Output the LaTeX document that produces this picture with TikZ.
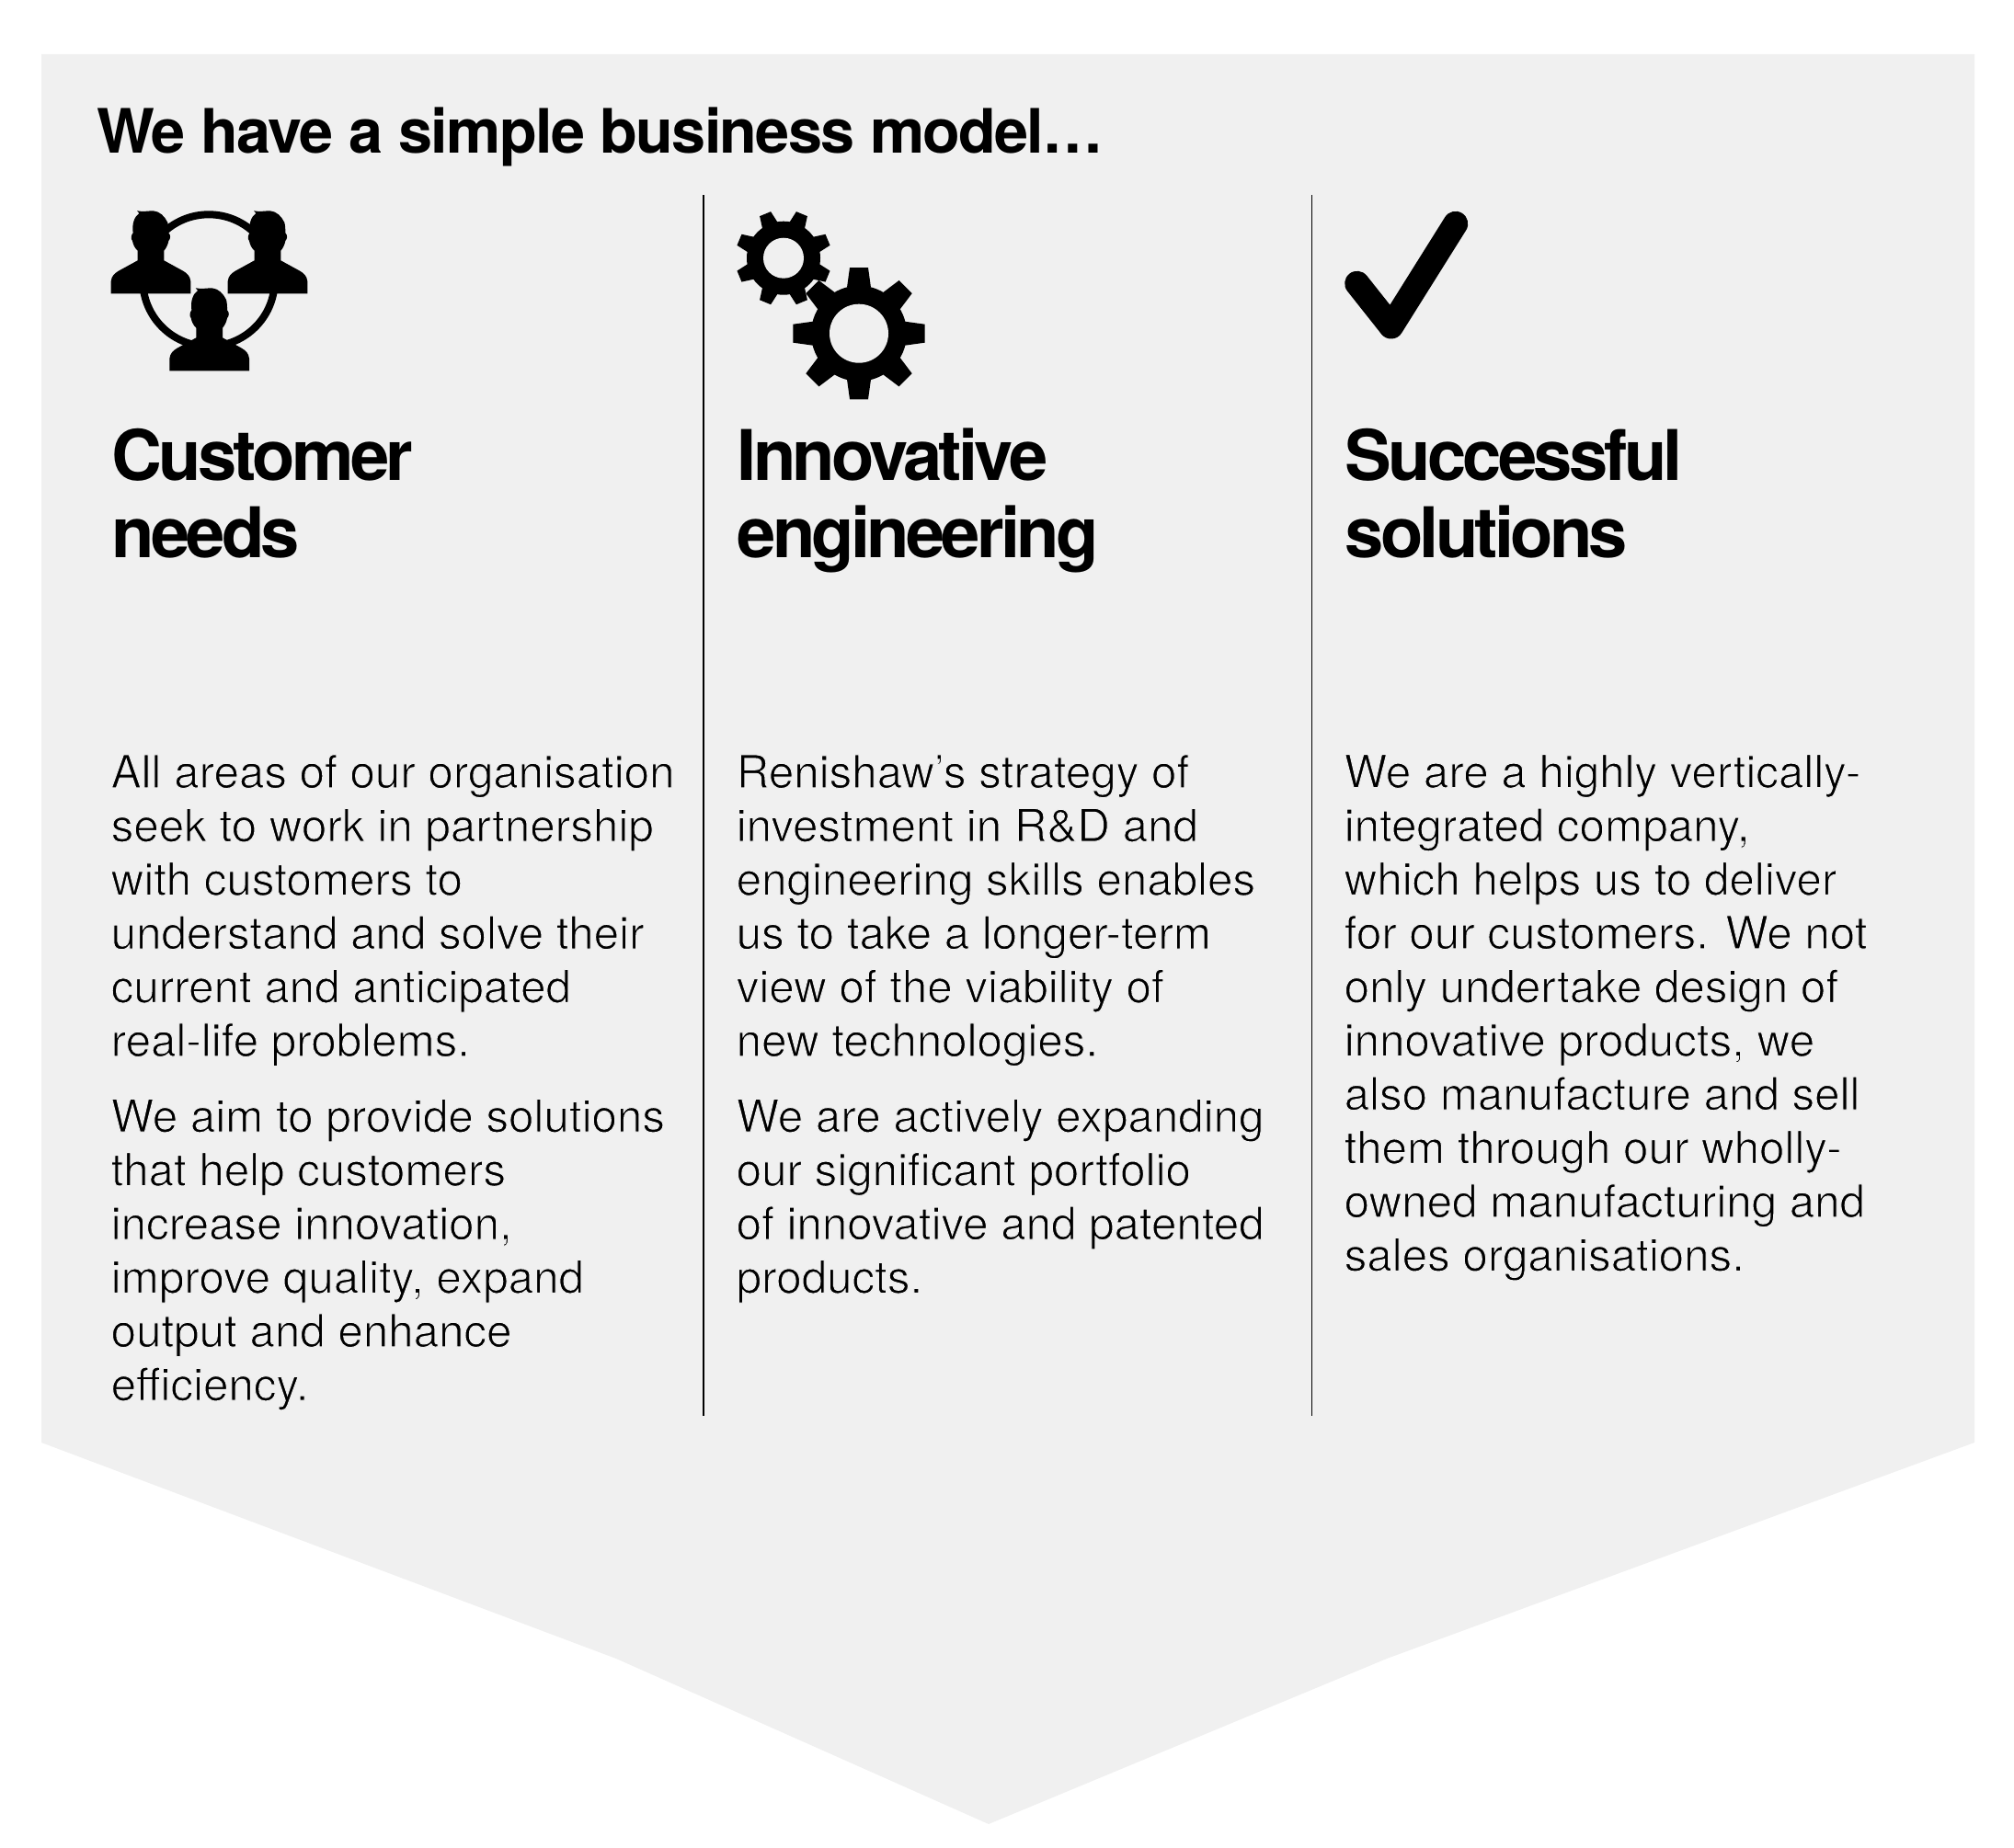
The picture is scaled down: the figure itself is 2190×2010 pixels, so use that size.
\documentclass[tikz,border=0pt]{standalone}
\usepackage{fontspec}
\setmainfont{TeX Gyre Heros}
\newfontfamily\headfont[LetterSpace=-5]{TeX Gyre Heros}
\newfontfamily\titlefont[LetterSpace=-2.6]{TeX Gyre Heros}
\definecolor{panel}{HTML}{F0F0F0}
\definecolor{ink}{HTML}{000000}
\definecolor{bodyink}{HTML}{000000}
\newcommand{\thinstart}{\special{pdf:code 2 Tr 0.941 G 1.0 w}}
\newcommand{\thinstop}{\special{pdf:code 0 Tr}}
\tikzset{
  titletext/.style={anchor=base west,inner sep=0pt,text=ink,font=\titlefont\bfseries\fontsize{66.6}{80}\selectfont},
  headtext/.style={anchor=north west,inner sep=0pt,align=left,text=ink,font=\headfont\bfseries\fontsize{76}{83.5}\selectfont},
  bodytext/.style={anchor=north west,inner sep=0pt,align=left,text=bodyink,font=\fontsize{49.3}{58.4}\selectfont},
  rule/.style={draw=ink,line width=1.6pt},
  person/.pic={
    \begin{scope}[scale=0.3333]
    \fill[ink] (-130,0) -- (-130,-40) .. controls (-128,-58) and (-118,-66) .. (-105,-74)
      -- (-43,-108) -- (-43,-140) .. controls (-52,-148) and (-58,-160) .. (-60,-172)
      .. controls (-66,-178) and (-64,-192) .. (-58,-198)
      .. controls (-62,-225) and (-55,-250) .. (-38,-262) -- (-45,-270)
      .. controls (-25,-266) and (-10,-270) .. (8,-270)
      .. controls (30,-268) and (45,-252) .. (55,-232)
      .. controls (58,-220) and (58,-208) .. (58,-198)
      .. controls (66,-190) and (64,-178) .. (58,-172)
      .. controls (56,-160) and (50,-148) .. (43,-140) -- (43,-108)
      -- (105,-74) .. controls (118,-66) and (128,-58) .. (130,-40) -- (130,0) -- cycle;
    \end{scope}
  }
}
\newcommand{\gearshape}[8]{%
  \begin{scope}[shift={(#1,#2)}]
    \fill[ink] (0,0) circle (#4);
    \foreach \a in {0,45,...,315} {
      \fill[ink,rotate=\a+#8] (#4-2,-#7) -- (#5,-#6) -- (#5,#6) -- (#4-2,#7) -- cycle;
    }
    \fill[panel] (0,0) circle (#3);
  \end{scope}}
\begin{document}
\begin{tikzpicture}[x=1pt,y=-1pt]
\useasboundingbox (0,0) rectangle (2190,2010);
\fill[panel] (45,59) -- (2147,59) -- (2147,1569) -- (1508,1804) -- (1075,1984) -- (670,1804) -- (45,1569) -- cycle;

\node[titletext] (title) at (105,166) {We have a simple business model…};

\coordinate (r1a) at (765,212); \coordinate (r1b) at (765,1540);
\coordinate (r2a) at (1426.5,212); \coordinate (r2b) at (1426.5,1540);
\draw[rule] (r1a) -- (r1b);
\draw[rule] (r2a) -- (r2b);

% people icon
\draw[ink,line width=8pt] (227,305) circle (71.7);
\pic at (164,319.3) {person};
\pic at (291,319.3) {person};
\pic at (227.7,403.3) {person};

% gears icon
\gearshape{852}{280.7}{22}{40}{52}{6.5}{9}{22.5}
\gearshape{934}{362.7}{32}{52}{71.6}{10}{13}{0}

% check icon
\draw[ink,line width=27pt,line cap=round,line join=round] (1475.7,308.3) -- (1512.7,355) -- (1582.7,243.3);

\node[headtext] (h1) at (121.5,466) {Customer\\needs};
\node[headtext] (h2) at (801.5,466) {Innovative\\engineering};
\node[headtext] (h3) at (1462.5,466) {Successful\\solutions};

\node[bodytext] (b1) at (120.5,820.5) {\thinstart All areas of our organisation\\seek to work in partnership\\with customers to\\understand and solve their\\current and anticipated\\real-life problems.\\[24pt]We aim to provide solutions\\that help customers\\increase innovation,\\improve quality, expand\\output and enhance\\efficiency.\thinstop};
\node[bodytext] (b2) at (800.5,820.5) {\thinstart Renishaw’s strategy of\\investment in R\&D and\\engineering skills enables\\us to take a longer-term\\view of the viability of\\new technologies.\\[24pt]We are actively expanding\\our significant portfolio\\of innovative and patented\\products.\thinstop};
\node[bodytext] (b3) at (1461.5,820.5) {\thinstart We are a highly vertically-\\integrated company,\\which helps us to deliver\\for our customers. We not\\only undertake design of\\innovative products, we\\also manufacture and sell\\them through our wholly-\\owned manufacturing and\\sales organisations.\thinstop};
\end{tikzpicture}
\end{document}
